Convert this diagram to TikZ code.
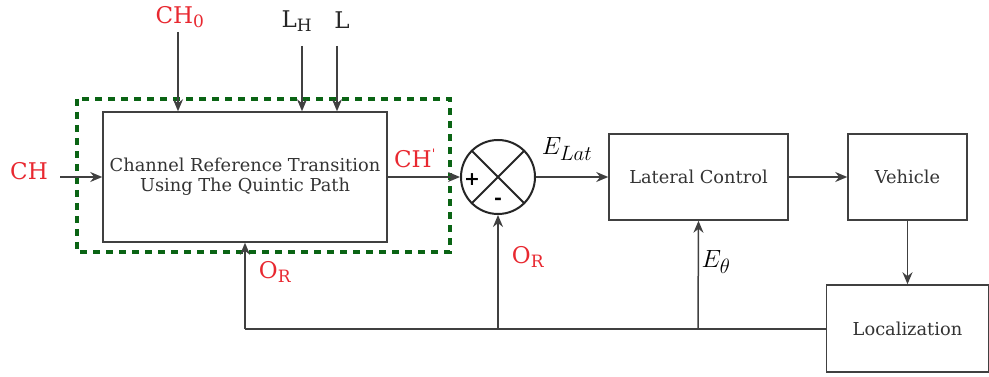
\documentclass[tikz,border=0pt]{standalone}
\usepackage{fontspec}
\setmainfont{DejaVu Serif}
\usetikzlibrary{arrows.meta}
\definecolor{lblred}{RGB}{232,40,48}
\definecolor{dgreen}{RGB}{10,100,20}
\begin{document}
\begin{tikzpicture}[x=1pt,y=-1pt,
  blk/.style={draw=black!75,line width=1.5pt,minimum width=#1,inner sep=0pt,font=\fontsize{17.8}{20}\selectfont,text=black!80,align=center},
  conn/.style={draw=black!75,line width=1.5pt},
  arr/.style={conn,-{Stealth[length=12pt,width=10pt]}},
  rlab/.style={text=lblred,font=\fontsize{23}{26}\selectfont,inner sep=0pt},
  klab/.style={text=black!85,font=\fontsize{23}{26}\selectfont,inner sep=0pt},
  mlab/.style={text=black,font=\fontsize{30}{32}\selectfont,inner sep=0pt}]
\useasboundingbox (0,0) rectangle (989,377);
% blocks
\node[blk=284pt,minimum height=130pt] (crt) at (245,177) {Channel Reference Transition\\Using The Quintic Path};
\node[blk=179pt,minimum height=86pt] (lat) at (698.5,177) {Lateral Control};
\node[blk=119pt,minimum height=86pt] (veh) at (907.5,177) {Vehicle};
\node[blk=162pt,minimum height=87pt] (loc) at (907.5,328.5) {Localization};
% dashed green frame
\draw[dgreen,line width=3.4pt,dash pattern=on 7pt off 6pt] (77,99) rectangle (450,252);
% summing junction
\node[draw=black!85,line width=2pt,circle,minimum size=74pt,inner sep=0pt] (sum) at (498,177) {};
\draw[black!85,line width=2pt] (sum.north west) -- (sum.south east) (sum.north east) -- (sum.south west);
\node[font=\bfseries\fontsize{19}{20}\selectfont,inner sep=0pt] (plus) at (472,180) {+};
\node[font=\bfseries\fontsize{19}{20}\selectfont,inner sep=0pt] (minus) at (498,201) {-};
% labels
\node[rlab] (chl) at (29,171) {CH};
\node[rlab] (ch0) at (180,17) {CH\textsubscript{\fontsize{17}{18}\selectfont 0}};
\node[klab] (lh) at (297,21) {L\textsubscript{\fontsize{17}{18}\selectfont H}};
\node[klab] (ll) at (342,20) {L};
\node[rlab] (chp) at (415,158) {CH\textsuperscript{\fontsize{13}{14}\selectfont\textquotesingle}};
\node[mlab] (elat) at (567,149) {$E_{Lat}$};
\node[rlab] (or1) at (275,272) {O\textsubscript{\fontsize{17}{18}\selectfont R}};
\node[rlab] (or2) at (528,257) {O\textsubscript{\fontsize{17}{18}\selectfont R}};
\node[mlab] (eth) at (716,262) {$E_{\theta}$};
% coordinates
\coordinate (chs) at (60,177);
\coordinate (ch0s) at (178,32);
\coordinate (lhs) at (302,46);
\coordinate (lls) at (337,46);
\coordinate (fb1) at (245,329);
\coordinate (fb2) at (498,329);
\coordinate (fb3) at (698,329);
% connectors
\draw[arr] (chs) -- (crt.west);
\draw[arr] (ch0s) -- (ch0s |- crt.north);
\draw[arr] (lhs) -- (lhs |- crt.north);
\draw[arr] (lls) -- (lls |- crt.north);
\draw[arr] (crt.east) -- (sum.west);
\draw[arr] (sum.east) -- (lat.west);
\draw[arr] (lat.east) -- (veh.west);
\draw[arr] (veh.south) -- (loc.north);
\draw[conn] (loc.west |- fb1) -- (fb1);
\draw[arr] (fb1) -- (fb1 |- crt.south);
\draw[arr] (fb2) -- (sum.south);
\draw[arr] (fb3) -- (lat.south);
\end{tikzpicture}
\end{document}
